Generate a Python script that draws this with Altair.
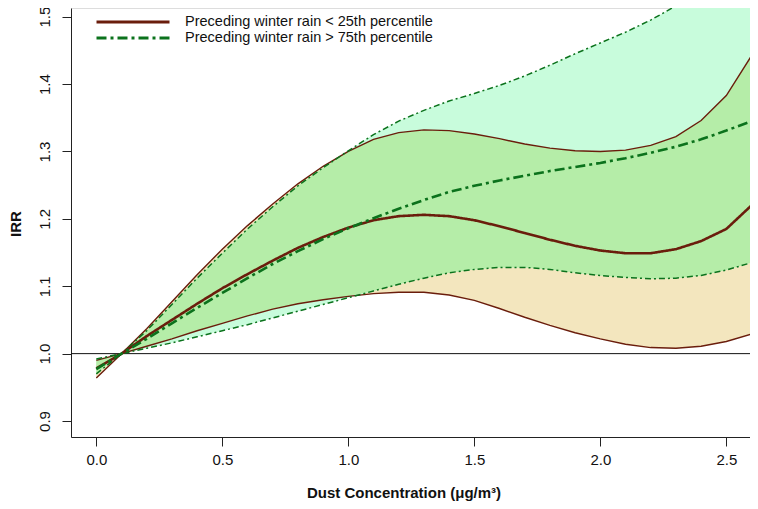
import altair as alt
import pandas as pd
import numpy as np

# Dust concentration grid (µg/m3)
dust = [0.0, 0.1, 0.2, 0.3, 0.4, 0.5, 0.6, 0.7, 0.8, 0.9, 1.0, 1.1, 1.2, 1.3,
        1.4, 1.5, 1.6, 1.7, 1.8, 1.9, 2.0, 2.1, 2.2, 2.3, 2.4, 2.5, 2.6, 2.7]

# Preceding winter rain < 25th percentile
low_mid = [0.978, 1.000, 1.026, 1.050, 1.074, 1.097, 1.118, 1.138, 1.157, 1.173,
           1.187, 1.198, 1.204, 1.206, 1.204, 1.198, 1.189, 1.179, 1.169, 1.160,
           1.153, 1.149, 1.149, 1.155, 1.167, 1.185, 1.220, 1.260]
low_lo = [0.990, 1.000, 1.011, 1.022, 1.034, 1.045, 1.056, 1.066, 1.074, 1.080,
          1.085, 1.089, 1.091, 1.091, 1.087, 1.079, 1.067, 1.054, 1.042, 1.031,
          1.022, 1.014, 1.009, 1.008, 1.011, 1.018, 1.029, 1.045]
low_hi = [0.964, 1.000, 1.037, 1.077, 1.117, 1.155, 1.190, 1.222, 1.252, 1.278,
          1.300, 1.318, 1.328, 1.332, 1.331, 1.326, 1.319, 1.311, 1.305, 1.301,
          1.300, 1.302, 1.309, 1.322, 1.346, 1.383, 1.442, 1.525]

# Preceding winter rain > 75th percentile
high_mid = [0.977, 1.000, 1.022, 1.045, 1.068, 1.090, 1.112, 1.133, 1.152, 1.170,
            1.186, 1.201, 1.215, 1.228, 1.240, 1.249, 1.257, 1.264, 1.271, 1.277,
            1.283, 1.290, 1.298, 1.307, 1.318, 1.331, 1.345, 1.360]
high_lo = [0.992, 1.000, 1.008, 1.016, 1.025, 1.034, 1.043, 1.053, 1.063, 1.073,
           1.083, 1.093, 1.103, 1.112, 1.120, 1.125, 1.128, 1.128, 1.125, 1.120,
           1.116, 1.113, 1.111, 1.112, 1.116, 1.124, 1.135, 1.148]
high_hi = [0.970, 1.000, 1.034, 1.073, 1.112, 1.149, 1.185, 1.218, 1.249, 1.276,
           1.301, 1.325, 1.345, 1.361, 1.375, 1.386, 1.398, 1.412, 1.428, 1.445,
           1.461, 1.477, 1.495, 1.516, 1.540, 1.568, 1.598, 1.630]

series_names = ["Preceding winter rain < 25th percentile",
                "Preceding winter rain > 75th percentile"]
x_ticks = [0.0, 0.5, 1.0, 1.5, 2.0, 2.5]
y_ticks = [0.9, 1.0, 1.1, 1.2, 1.3, 1.4, 1.5]

BROWN = "#6A1D0C"
GREEN = "#0B721C"
WHEAT = "#F3E6BE"
MINT = "#C8FCDC"
OVERLAP = "#B5EDA8"

x_dom = [-0.1004, 2.594]
y_dom = [0.8763, 1.5129]

# band tables
b_lo = np.minimum(low_lo, low_hi); b_hi = np.maximum(low_lo, low_hi)
g_lo = np.minimum(high_lo, high_hi); g_hi = np.maximum(high_lo, high_hi)
ov_lo = np.maximum(b_lo, g_lo); ov_hi = np.maximum(np.minimum(b_hi, g_hi), ov_lo)

bands = pd.DataFrame({"x": dust, "blo": b_lo, "bhi": b_hi, "glo": g_lo, "ghi": g_hi,
                      "olo": ov_lo, "ohi": ov_hi})

mids = pd.DataFrame({
    "x": dust + dust,
    "y": low_mid + high_mid,
    "series": [series_names[0]] * len(dust) + [series_names[1]] * len(dust),
})
low_bounds = pd.DataFrame({"x": dust + dust, "y": low_lo + low_hi,
                           "part": ["lo"] * len(dust) + ["hi"] * len(dust)})
high_bounds = pd.DataFrame({"x": dust + dust, "y": high_lo + high_hi,
                            "part": ["lo"] * len(dust) + ["hi"] * len(dust)})
hline = pd.DataFrame({"y": [1.0]})

PW, PH = 679, 429

xs = alt.Scale(domain=x_dom, nice=False, zero=False)
ys = alt.Scale(domain=y_dom, nice=False, zero=False)

x_axis = alt.Axis(values=x_ticks, format=".1f", title="Dust Concentration (\u03bcg/m\u00b3)",
                  grid=False, tickSize=9, labelPadding=6,
                  titleY=60, titleBaseline="alphabetic", titleX=PW / 2 - 7,
                  labelFontSize=15, titleFontSize=15, titleFontWeight="bold",
                  domainColor="#222222", tickColor="#222222", labelColor="#111111",
                  titleColor="#111111", labelFlush=False)
y_axis = alt.Axis(values=y_ticks, format=".1f", title="IRR", grid=False, tickSize=9,
                  labelAngle=270, labelAlign="center", labelBaseline="bottom",
                  labelPadding=10, titleX=-56, titleY=PH / 2 + 1, titleBaseline="middle",
                  titleAngle=270, titleAlign="center",
                  labelFontSize=15, titleFontSize=15,
                  titleFontWeight="bold", domainColor="#222222", tickColor="#222222",
                  labelColor="#111111", titleColor="#111111", labelFlush=False)

base = alt.Chart(bands)

wheat = base.mark_area(color=WHEAT, clip=True).encode(
    x=alt.X("x:Q", scale=xs, axis=x_axis), y=alt.Y("blo:Q", scale=ys, axis=y_axis), y2="bhi:Q")
mint = base.mark_area(color=MINT, clip=True).encode(
    x=alt.X("x:Q", scale=xs), y=alt.Y("glo:Q", scale=ys), y2="ghi:Q")
over = base.mark_area(color=OVERLAP, clip=True).encode(
    x=alt.X("x:Q", scale=xs), y=alt.Y("olo:Q", scale=ys), y2="ohi:Q")

rule = alt.Chart(hline).mark_rule(color="#111111", strokeWidth=1).encode(y=alt.Y("y:Q", scale=ys))

lb = alt.Chart(low_bounds).mark_line(color=BROWN, strokeWidth=1.4, clip=True).encode(
    x=alt.X("x:Q", scale=xs), y=alt.Y("y:Q", scale=ys), detail="part:N")
hb = alt.Chart(high_bounds).mark_line(color=GREEN, strokeWidth=1.5, strokeDash=[6, 3, 2, 3],
                                      clip=True).encode(
    x=alt.X("x:Q", scale=xs), y=alt.Y("y:Q", scale=ys), detail="part:N")

legend_kw = dict(title=None, orient="none", legendX=24, legendY=7,
                 symbolType="stroke", symbolSize=5329, symbolStrokeWidth=3,
                 clipHeight=14, rowPadding=1, labelOffset=14, labelFontSize=14.5,
                 labelColor="#111111", labelLimit=400, padding=0)

mid = alt.Chart(mids).mark_line(strokeWidth=2.6, clip=True).encode(
    x=alt.X("x:Q", scale=xs), y=alt.Y("y:Q", scale=ys),
    color=alt.Color("series:N", scale=alt.Scale(domain=series_names, range=[BROWN, GREEN]),
                    legend=alt.Legend(**legend_kw)),
    strokeDash=alt.StrokeDash("series:N", scale=alt.Scale(domain=series_names,
                                                         range=[[1, 0], [10, 4, 3, 4]]),
                              legend=alt.Legend(**legend_kw)),
)

chart = alt.layer(wheat, mint, over, rule, lb, hb, mid).properties(
    width=PW, height=PH,
    padding={"left": 63, "top": 0, "right": 0, "bottom": 64},
    autosize=alt.AutoSizeParams(type="none"),
).configure_view(stroke=None).configure(font="Liberation Sans")

chart.save("out.html", embed_options={"renderer": "svg", "actions": False})
